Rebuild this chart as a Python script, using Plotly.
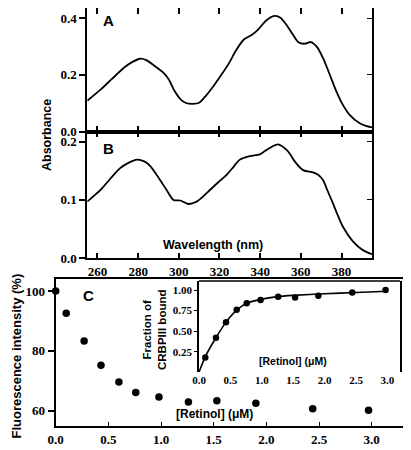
import plotly.graph_objects as go

# ---------------- data ----------------
wl_a = [255, 261.5, 267, 273, 277, 281, 284, 288, 292.5, 295, 298, 301, 303.5, 307, 310,
        313.5, 317, 321, 325, 328, 332, 336, 339, 343, 347, 350, 353, 356, 359, 362,
        365, 368, 371, 374, 377, 380, 384, 388.8, 392, 395]
abs_a = [0.109, 0.148, 0.185, 0.225, 0.245, 0.257, 0.252, 0.232, 0.207, 0.185, 0.142, 0.113,
         0.101, 0.098, 0.102, 0.128, 0.160, 0.201, 0.245, 0.285, 0.325, 0.342, 0.360, 0.392,
         0.408, 0.402, 0.376, 0.343, 0.314, 0.310, 0.316, 0.298, 0.258, 0.205, 0.150, 0.103,
         0.059, 0.030, 0.020, 0.015]

wl_b = [255, 261.5, 266, 271, 275, 279.5, 283, 286, 290.8, 294, 297.4, 300.7, 304.7, 308.8,
        312, 315.3, 319, 323.5, 327, 330, 334.9, 339.8, 342, 344.7, 348.8, 352.9, 355, 357,
        361.1, 366, 368.5, 370.9, 373, 375.8, 378, 380.7, 385.6, 390.5, 395]
abs_b = [0.097, 0.117, 0.135, 0.154, 0.163, 0.169, 0.166, 0.158, 0.134, 0.117, 0.100, 0.099,
         0.093, 0.097, 0.106, 0.117, 0.129, 0.143, 0.157, 0.169, 0.175, 0.178, 0.183, 0.189,
         0.195, 0.186, 0.177, 0.166, 0.151, 0.147, 0.143, 0.134, 0.117, 0.094, 0.075, 0.054,
         0.029, 0.014, 0.007]

retinol = [0.0, 0.10, 0.27, 0.43, 0.60, 0.76, 0.98, 1.26, 1.53, 1.90, 2.44, 2.97]
fluor = [100, 92.6, 83.3, 75.2, 69.6, 66.1, 64.6, 62.9, 63.3, 62.5, 60.7, 60.2]

retinol_in = [0.10, 0.27, 0.43, 0.60, 0.76, 0.98, 1.26, 1.53, 1.90, 2.44, 2.97]
frac_in = [0.18, 0.42, 0.61, 0.76, 0.84, 0.88, 0.92, 0.91, 0.93, 0.97, 1.00]

fit_x = [0.0, 0.10, 0.27, 0.43, 0.60, 0.76, 1.0, 1.25, 1.5, 2.0, 2.5, 3.0]
fit_y = [0.0, 0.19, 0.42, 0.61, 0.755, 0.84, 0.89, 0.92, 0.935, 0.955, 0.97, 0.985]

wl_ticks = [260, 280, 300, 320, 340, 360, 380]
wl_labels = ["260", "280", "300", "320", "340", "360", "380"]
abs_a_ticks = [0.0, 0.2, 0.4]
abs_a_labels = ["0.0", "0.2", "0.4"]
abs_b_ticks = [0.0, 0.1, 0.2]
abs_b_labels = ["0.0", "0.1", "0.2"]
c_xticks = [0.0, 0.5, 1.0, 1.5, 2.0, 2.5, 3.0]
c_xlabels = ["0.0", "0.5", "1.0", "1.5", "2.0", "2.5", "3.0"]
c_yticks = [60, 80, 100]
c_ylabels = ["60", "80", "100"]
in_yticks = [0.25, 0.50, 0.75, 1.00]
in_ylabels = ["0.25", "0.50", "0.75", "1.00"]

# ---------------- layout helpers ----------------
# the page body has an 8 px margin, so the figure starts at (8, 8) in the window
OFF = 8
W, H = 411 - OFF, 450 - OFF
def px(x):
    return (x - OFF) / W
def py(y):
    return min(1.0, 1 - (y - OFF) / H)

def bold(lst):
    return ["<b>%s</b>" % s for s in lst]

SERIF = '"Liberation Serif", "Times New Roman", Times, serif'
SANS = '"Liberation Sans", Arial, Helvetica, sans-serif'
tickfont = dict(family=SERIF, size=13, color="black")
small_tickfont = dict(family=SERIF, size=11, color="black")

dom_x_ab = [px(87.3), px(372)]
dom_y_a = [py(131.6), py(8)]
dom_y_b = [py(258.3), py(131.6)]
dom_x_c = [px(55.7), px(403.3)]
dom_y_c = [py(426), py(279)]
dom_x_in = [px(199), px(400)]
dom_y_in = [py(372.3), py(281)]

fig = go.Figure()
fig.add_trace(go.Scatter(x=wl_a, y=abs_a, mode="lines",
                         line=dict(color="black", width=1.8, shape="spline", smoothing=0.8),
                         xaxis="x", yaxis="y", showlegend=False))
fig.add_trace(go.Scatter(x=wl_b, y=abs_b, mode="lines",
                         line=dict(color="black", width=1.8, shape="spline", smoothing=0.8),
                         xaxis="x2", yaxis="y2", showlegend=False))
fig.add_trace(go.Scatter(x=retinol, y=fluor, mode="markers", marker=dict(color="black", size=7.5),
                         xaxis="x3", yaxis="y5", showlegend=False, cliponaxis=False))
fig.add_trace(go.Scatter(x=fit_x, y=fit_y, mode="lines",
                         line=dict(color="black", width=1.6, shape="spline", smoothing=0.6),
                         xaxis="x4", yaxis="y6", showlegend=False))
fig.add_trace(go.Scatter(x=retinol_in, y=frac_in, mode="markers", marker=dict(color="black", size=6.5),
                         xaxis="x4", yaxis="y6", showlegend=False, cliponaxis=False))
# dummy traces so the right-hand tick axes exist
fig.add_trace(go.Scatter(x=[None], y=[None], xaxis="x", yaxis="y3", showlegend=False, hoverinfo="skip"))
fig.add_trace(go.Scatter(x=[None], y=[None], xaxis="x2", yaxis="y4", showlegend=False, hoverinfo="skip"))

ax_common = dict(showgrid=False, zeroline=False, linecolor="black", tickcolor="black", automargin=False)

fig.update_layout(
    template="none",
    width=W, height=H, margin=dict(l=0, r=0, t=0, b=0, pad=0), autosize=False,
    paper_bgcolor="white", plot_bgcolor="white", showlegend=False,
    xaxis=dict(**ax_common, domain=dom_x_ab, anchor="y", range=[255, 395], tickvals=wl_ticks,
               ticks="inside", ticklen=6, tickwidth=1.5, showticklabels=False, showline=True,
               linewidth=1.6, mirror="ticks"),
    yaxis=dict(**ax_common, domain=dom_y_a, anchor="x", range=[0, 0.436], tickvals=abs_a_ticks,
               ticktext=bold(abs_a_labels), ticks="outside", ticklen=6, tickwidth=1.5, tickfont=tickfont,
               showline=True, linewidth=1.8, mirror=True),
    yaxis3=dict(**ax_common, overlaying="y", side="right", anchor="x", range=[0, 0.436],
                tickvals=[0.2, 0.4], ticks="inside", ticklen=5, tickwidth=1.2, showticklabels=False,
                showline=False),
    xaxis2=dict(**ax_common, domain=dom_x_ab, anchor="y2", range=[255, 395], tickvals=wl_ticks,
                ticktext=bold(wl_labels), ticks="inside", ticklen=6, tickwidth=1.5, tickfont=tickfont,
                showline=True, linewidth=1.6, mirror="ticks"),
    yaxis2=dict(**ax_common, domain=dom_y_b, anchor="x2", range=[0, 0.217], tickvals=abs_b_ticks,
                ticktext=bold(abs_b_labels), ticks="outside", ticklen=6, tickwidth=1.5, tickfont=tickfont,
                showline=True, linewidth=1.8, mirror=True),
    yaxis4=dict(**ax_common, overlaying="y2", side="right", anchor="x2", range=[0, 0.217],
                tickvals=[0.1, 0.2], ticks="inside", ticklen=5, tickwidth=1.2, showticklabels=False,
                showline=False),
    xaxis3=dict(**ax_common, domain=dom_x_c, anchor="y5", range=[0, 3.3], tickvals=c_xticks,
                ticktext=bold(c_xlabels), ticks="inside", ticklen=4, tickwidth=1.2, tickfont=tickfont,
                showline=True, linewidth=2, mirror=True),
    yaxis5=dict(**ax_common, domain=dom_y_c, anchor="x3", range=[54.9, 104.0], tickvals=c_yticks,
                ticktext=bold(c_ylabels), ticks="outside", ticklen=6, tickwidth=1.5, tickfont=tickfont,
                showline=True, linewidth=2, mirror=True),
    xaxis4=dict(**ax_common, domain=dom_x_in, anchor="y6", range=[0, 3.2], tickvals=c_xticks,
                ticktext=bold(c_xlabels), ticks="", tickfont=small_tickfont, showline=False),
    yaxis6=dict(**ax_common, domain=dom_y_in, anchor="x4", range=[0, 1.11], tickvals=in_yticks,
                ticktext=bold(in_ylabels), ticks="outside", ticklen=3, tickwidth=1.2,
                tickfont=small_tickfont, showline=True, linewidth=1.5, mirror=True),
)

# inset top border
fig.add_shape(type="line", xref="x4 domain", yref="y6 domain", x0=0, x1=1, y0=1, y1=1,
              line=dict(color="black", width=1.5))

def label(text, x, y, size, angle=0):
    fig.add_annotation(text="<b>%s</b>" % text, x=px(x), y=py(y), xref="paper", yref="paper",
                       showarrow=False, textangle=angle, xanchor="center", yanchor="middle",
                       font=dict(family=SANS, size=size, color="black"))

label("A", 108.3, 20, 15)
label("B", 108.3, 148.3, 15)
label("C", 88.3, 295, 15)
label("Absorbance", 47, 135, 12.5, -90)
label("Wavelength (nm)", 213, 245, 12.5)
label("Fluorescence intensity (%)", 15.5, 356, 13, -90)
label("[Retinol] (μM)", 215, 414, 12)
label("[Retinol] (μM)", 293, 361, 10.5)
fig.add_annotation(text="<b>Fraction of<br>CRBPIII bound</b>", x=px(154), y=py(330),
                   xref="paper", yref="paper", showarrow=False, textangle=-90,
                   xanchor="center", yanchor="middle",
                   font=dict(family=SANS, size=11.5, color="black"))

fig.write_html("out.html")
